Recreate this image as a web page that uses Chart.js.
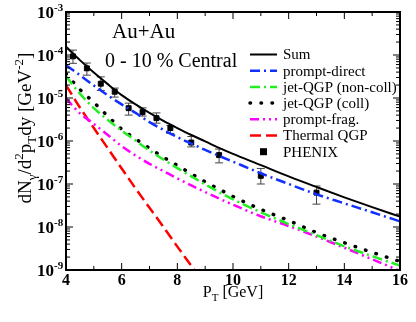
<!DOCTYPE html>
<html>
<head>
<meta charset="utf-8">
<script src="https://cdn.jsdelivr.net/npm/chart.js@4.4.0/dist/chart.umd.min.js"></script>
<style>
  body { margin: 0; background: #fff; }
  #wrap { width: 416px; height: 322px; }
</style>
</head>
<body>
<div id="wrap"><canvas id="photonChart"></canvas></div>
<script>
// transverse momentum grid (GeV) for the model curves
const ptGrid = [4, 4.5, 5, 5.5, 6, 6.5, 7, 7.5, 8, 8.5, 9, 9.5, 10, 11, 12, 13, 14, 15, 16];

const sumVals      = [1.55e-4, 7.6e-5, 3.9e-5, 2.1e-5, 1.17e-5, 7.1e-6, 4.5e-6, 2.95e-6, 2.0e-6, 1.38e-6, 9.8e-7, 6.9e-7, 5.0e-7, 2.75e-7, 1.5e-7, 8.5e-8, 4.9e-8, 2.9e-8, 1.74e-8];
const promptDirect = [5.75e-5, 3.4e-5, 1.95e-5, 1.15e-5, 7.1e-6, 4.5e-6, 2.75e-6, 1.82e-6, 1.23e-6, 8.7e-7, 6.2e-7, 4.5e-7, 3.3e-7, 1.78e-7, 1.0e-7, 5.75e-8, 3.55e-8, 2.2e-8, 1.35e-8];
const jetNonColl   = [3.2e-5, 1.26e-5, 5.8e-6, 3.1e-6, 1.74e-6, 1.02e-6, 6.0e-7, 3.7e-7, 2.34e-7, 1.51e-7, 9.8e-8, 6.5e-8, 4.4e-8, 2.2e-8, 1.17e-8, 6.5e-9, 3.55e-9, 2.1e-9, 1.26e-9];
const jetColl      = [3.7e-5, 1.58e-5, 7.9e-6, 3.8e-6, 1.9e-6, 1.12e-6, 6.8e-7, 4.2e-7, 2.7e-7, 1.74e-7, 1.12e-7, 7.6e-8, 5.1e-8, 2.57e-8, 1.41e-8, 7.4e-9, 4.3e-9, 2.57e-9, 1.58e-9];
const promptFrag   = [9.8e-6, 4.4e-6, 2.5e-6, 1.38e-6, 7.6e-7, 4.6e-7, 2.95e-7, 2.0e-7, 1.35e-7, 9.3e-8, 6.5e-8, 4.6e-8, 3.3e-8, 1.78e-8, 1.05e-8, 6.0e-9, 3.3e-9, 1.78e-9, 9.5e-10];

const thermalPt  = [4, 4.5, 5, 5.5, 6, 6.5, 7, 7.5, 8, 8.5, 9];
const thermalQGP = [2.0e-5, 6.0e-6, 2.0e-6, 6.8e-7, 2.3e-7, 7.9e-8, 2.8e-8, 1.0e-8, 3.5e-9, 1.26e-9, 4.5e-10];

// PHENIX data with error bar ends
const phenixPt  = [4.25, 4.75, 5.25, 5.75, 6.25, 6.75, 7.25, 7.75, 8.5, 9.5, 11, 13];
const phenixVal = [9.3e-5, 4.9e-5, 2.15e-5, 1.4e-5, 5.8e-6, 4.7e-6, 3.4e-6, 2.0e-6, 9.2e-7, 4.7e-7, 1.55e-7, 6.3e-8];
const phenixLo  = [6.4e-5, 3.4e-5, 1.5e-5, 1.05e-5, 4.0e-6, 3.8e-6, 2.6e-6, 1.5e-6, 7.3e-7, 3.1e-7, 1.0e-7, 3.4e-8];
const phenixHi  = [1.3e-4, 6.5e-5, 3.1e-5, 1.7e-5, 7.6e-6, 5.9e-6, 4.5e-6, 2.3e-6, 1.27e-6, 6.5e-7, 2.3e-7, 9.0e-8];

// axis ticks
const xMajorTicks = [4, 6, 8, 10, 12, 14, 16];
const xMinorTicks = [5, 7, 9, 11, 13, 15];
const xTickLabels = ['4', '6', '8', '10', '12', '14', '16'];
const yMajorTicks = [1e-9, 1e-8, 1e-7, 1e-6, 1e-5, 1e-4, 1e-3];
const yTickExps   = ['-9', '-8', '-7', '-6', '-5', '-4', '-3'];

const serif = '"Liberation Serif", "Times New Roman", serif';

function pairs(xs, ys) {
  return xs.map((v, i) => ({ x: v, y: ys[i] }));
}

function curve(label, xs, ys, color, width, dash, cap) {
  return {
    label,
    data: pairs(xs, ys),
    borderColor: color,
    backgroundColor: color,
    borderWidth: width,
    borderDash: dash,
    borderCapStyle: cap || 'butt',
    pointRadius: 0,
    fill: false,
    cubicInterpolationMode: 'monotone'
  };
}

// draw text made of normal / sub / sup pieces
function richText(ctx, parts, size, x, y, align) {
  const fontOf = p => (p[1] === 'n' ? size : Math.round(size * 0.7)) + 'px ' + serif;
  let total = 0;
  parts.forEach(p => { ctx.font = fontOf(p); total += ctx.measureText(p[0]).width; });
  let cx = align === 'center' ? x - total / 2 : x;
  ctx.textAlign = 'left';
  ctx.textBaseline = 'alphabetic';
  parts.forEach(p => {
    ctx.font = fontOf(p);
    const dy = p[1] === 'sub' ? size * 0.28 : p[1] === 'sup' ? -size * 0.4 : 0;
    ctx.fillText(p[0], cx, y + dy);
    cx += ctx.measureText(p[0]).width;
  });
}

function seg(ctx, x1, y1, x2, y2) {
  ctx.beginPath();
  ctx.moveTo(x1, y1);
  ctx.lineTo(x2, y2);
  ctx.stroke();
}

const decorations = {
  id: 'decorations',
  beforeDatasetsDraw(chart) {
    const { ctx, scales: { x, y } } = chart;
    ctx.save();
    ctx.strokeStyle = '#444';
    ctx.lineWidth = 1;
    phenixPt.forEach((pt, i) => {
      const px = x.getPixelForValue(pt);
      const lo = y.getPixelForValue(phenixLo[i]);
      const hi = y.getPixelForValue(phenixHi[i]);
      seg(ctx, px, lo, px, hi);
      seg(ctx, px - 4, lo, px + 4, lo);
      seg(ctx, px - 4, hi, px + 4, hi);
    });
    ctx.restore();
  },
  afterDraw(chart) {
    const { ctx, chartArea: a, scales: { x, y } } = chart;
    ctx.save();
    ctx.fillStyle = '#000';
    ctx.strokeStyle = '#000';

    // frame
    ctx.lineWidth = 2;
    ctx.strokeRect(a.left, a.top, a.right - a.left, a.bottom - a.top);

    // ticks
    ctx.lineWidth = 1;
    xMajorTicks.forEach(v => {
      const px = x.getPixelForValue(v);
      seg(ctx, px, a.bottom, px, a.bottom - 7);
      seg(ctx, px, a.top, px, a.top + 7);
    });
    xMinorTicks.forEach(v => {
      const px = x.getPixelForValue(v);
      seg(ctx, px, a.bottom, px, a.bottom - 4);
      seg(ctx, px, a.top, px, a.top + 4);
    });
    yMajorTicks.forEach((v, i) => {
      const py = y.getPixelForValue(v);
      seg(ctx, a.left, py, a.left + 7, py);
      seg(ctx, a.right, py, a.right - 7, py);
      if (i < yMajorTicks.length - 1) {
        for (let m = 2; m <= 9; m++) {
          const pm = y.getPixelForValue(v * m);
          seg(ctx, a.left, pm, a.left + 4, pm);
          seg(ctx, a.right, pm, a.right - 4, pm);
        }
      }
    });

    // tick labels
    ctx.textBaseline = 'alphabetic';
    ctx.font = 'bold 16px ' + serif;
    ctx.textAlign = 'center';
    xMajorTicks.forEach((v, i) => {
      ctx.fillText(xTickLabels[i], x.getPixelForValue(v), a.bottom + 15);
    });
    yMajorTicks.forEach((v, i) => {
      const py = y.getPixelForValue(v);
      ctx.font = 'bold 17px ' + serif;
      ctx.textAlign = 'right';
      ctx.fillText('10', 54, py + 6);
      ctx.font = 'bold 11px ' + serif;
      ctx.textAlign = 'left';
      ctx.fillText(yTickExps[i], 54, py - 1);
    });

    // axis titles
    richText(ctx, [['P', 'n'], ['T', 'sub'], [' [GeV]', 'n']], 16, (a.left + a.right) / 2, a.bottom + 27, 'center');
    ctx.save();
    ctx.translate(31, 128);
    ctx.rotate(-Math.PI / 2);
    richText(ctx, [['dN', 'n'], ['\u03b3', 'sub'], ['/d', 'n'], ['2', 'sup'], ['p', 'n'], ['T', 'sub'],
                   ['dy [GeV', 'n'], ['-2', 'sup'], [']', 'n']], 19, 0, 0, 'center');
    ctx.restore();

    // labels in the plot
    ctx.textAlign = 'left';
    ctx.font = '21px ' + serif;
    ctx.fillText('Au+Au', 112, 38);
    ctx.font = '20px ' + serif;
    ctx.fillText('0 - 10 % Central', 105, 67);

    // legend
    ctx.font = '15px ' + serif;
    ctx.textBaseline = 'middle';
    chart.data.datasets.forEach((ds, i) => {
      const ry = 54.5 + i * 16.2;
      if (ds.showLine === false) {
        ctx.fillRect(260, ry - 3.5, 7, 7);
      } else {
        ctx.save();
        ctx.strokeStyle = ds.borderColor;
        ctx.lineWidth = ds.borderWidth;
        ctx.lineCap = ds.borderCapStyle;
        ctx.setLineDash(ds.borderDash);
        seg(ctx, 250, ry, 277, ry);
        ctx.restore();
      }
      ctx.fillStyle = '#000';
      ctx.fillText(ds.label, 283, ry + 1);
    });
    ctx.restore();
  }
};

new Chart(document.getElementById('photonChart'), {
  type: 'line',
  data: {
    datasets: [
      curve('Sum', ptGrid, sumVals, '#000000', 2, []),
      curve('prompt-direct', ptGrid, promptDirect, '#1030ff', 2.5, [10, 4, 2, 4]),
      curve('jet-QGP (non-coll)', ptGrid, jetNonColl, '#22ee22', 2.5, [10, 4, 2, 4]),
      curve('jet-QGP (coll)', ptGrid, jetColl, '#000000', 3.5, [0.5, 10.5], 'round'),
      curve('prompt-frag.', ptGrid, promptFrag, '#ff00ff', 2.5, [9, 4, 2, 4, 2, 4]),
      curve('Thermal QGP', thermalPt, thermalQGP, '#ff0000', 2.5, [11, 5]),
      {
        label: 'PHENIX',
        data: pairs(phenixPt, phenixVal),
        showLine: false,
        pointStyle: 'rect',
        pointRadius: 3.5,
        pointBackgroundColor: '#000',
        pointBorderColor: '#000',
        borderColor: '#000'
      }
    ]
  },
  options: {
    responsive: true,
    maintainAspectRatio: false,
    animation: false,
    layout: { padding: { left: 66, right: 16, top: 12, bottom: 52 } },
    plugins: { legend: { display: false }, tooltip: { enabled: false } },
    scales: {
      x: {
        type: 'linear', min: 4, max: 16,
        grid: { display: false }, border: { display: false },
        ticks: { display: false },
        afterFit: s => { s.height = 0; }
      },
      y: {
        type: 'logarithmic', min: 1e-9, max: 1e-3,
        grid: { display: false }, border: { display: false },
        ticks: { display: false },
        afterFit: s => { s.width = 0; }
      }
    }
  },
  plugins: [decorations]
});
</script>
</body>
</html>
